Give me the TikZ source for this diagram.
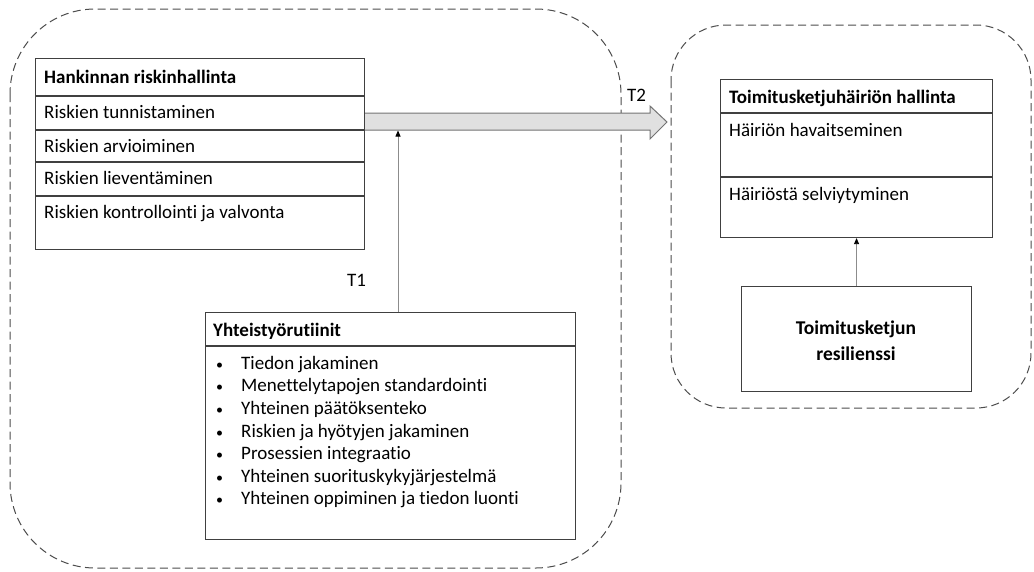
\documentclass[tikz,border=0pt]{standalone}
\usepackage{fontspec}
\setmainfont{Carlito}[Ligatures={NoCommon}]
\usetikzlibrary{arrows.meta}
\begin{document}
\begin{tikzpicture}[x=1pt,y=-1pt,
  boxline/.style={draw=black!75, line width=1.1pt},
  frame/.style={boxline, anchor=north west, inner sep=0pt},
  region/.style={draw=black!70, line width=1pt, dash pattern=on 8pt off 4.5pt},
  txt/.style={anchor=west, inner sep=0pt, text height=13pt, text depth=4pt,
              yshift=-1.5pt, font=\fontsize{19}{22}\selectfont},
  head/.style={txt, font=\fontsize{19}{22}\selectfont\bfseries},
  bullet/.style={txt, font=\fontsize{14}{22}\selectfont},
  link/.style={draw=black!45, line width=0.8pt,
               -{Triangle[length=6pt,width=5pt,color=black]}},
  blockarrow/.style={draw=black!55, fill=black!12, line width=1pt}
]
\useasboundingbox (0,0) rectangle (1034,571);

% dashed regions
\draw[region, rounded corners=85pt] (10,9) rectangle (621,568);
\draw[region, rounded corners=55pt] (671,25) rectangle (1031,408);

% procurement risk management table
\node[frame, minimum width=329pt, minimum height=191pt] (hrm) at (35,58) {};
\draw[boxline] (35,96) -- (364,96);
\draw[boxline] (35,130) -- (364,130);
\draw[boxline] (35,162) -- (364,162);
\draw[boxline] (35,196) -- (364,196);
\node[head] (hrmhead) at (44,77) {Hankinnan riskinhallinta};
\node[txt] (hrm1) at (44,112) {Riskien tunnistaminen};
\node[txt] (hrm2) at (44,146) {Riskien arvioiminen};
\node[txt] (hrm3) at (44,178) {Riskien lieventäminen};
\node[txt] (hrm4) at (44,212) {Riskien kontrollointi ja valvonta};

% block arrow towards disruption management
\draw[blockarrow] (hrm.east |- 0,113) -- (650,113) -- (650,106) -- (667,122)
  -- (650,139) -- (650,130) -- (hrm.east |- 0,130);
\node[txt] (t2) at (627,95) {T2};

% collaboration routines
\node[frame, minimum width=370pt, minimum height=227pt] (yht) at (205,312) {};
\draw[boxline] (205,346) -- (575,346);
\node[head] (yhthead) at (213,330) {Yhteistyörutiinit};
\foreach \i/\y/\t in {1/363/Tiedon jakaminen,
                      2/385.5/Menettelytapojen standardointi,
                      3/408/Yhteinen päätöksenteko,
                      4/431/Riskien ja hyötyjen jakaminen,
                      5/453.5/Prosessien integraatio,
                      6/476/Yhteinen suorituskykyjärjestelmä,
                      7/498.5/Yhteinen oppiminen ja tiedon luonti} {
  \node[bullet] (bul\i) at (216,\y) {•};
  \node[txt] (item\i) at (241,\y) {\t};
}
\coordinate (t1in) at (398,130.5);
\draw[link] (yht.north -| t1in) -- (t1in);
\node[txt] (t1) at (347,280) {T1};

% supply chain disruption management
\node[frame, minimum width=272pt, minimum height=158pt] (tsh) at (720,79) {};
\draw[boxline] (720,113) -- (992,113);
\draw[boxline] (720,177) -- (992,177);
\node[head] (tshhead) at (729,97) {Toimitusketjuhäiriön hallinta};
\node[txt] (tsh1) at (729,130) {Häiriön havaitseminen};
\node[txt] (tsh2) at (729,194) {Häiriöstä selviytyminen};

% resilience
\node[frame, minimum width=230pt, minimum height=105pt] (res) at (741,286) {};
\node[align=center, inner sep=0pt, font=\fontsize{19.5}{26}\selectfont\bfseries]
  (restext) at (856,341) {Toimitusketjun\\resilienssi};
\draw[link] (res.north) -- (tsh.south);
\end{tikzpicture}
\end{document}
